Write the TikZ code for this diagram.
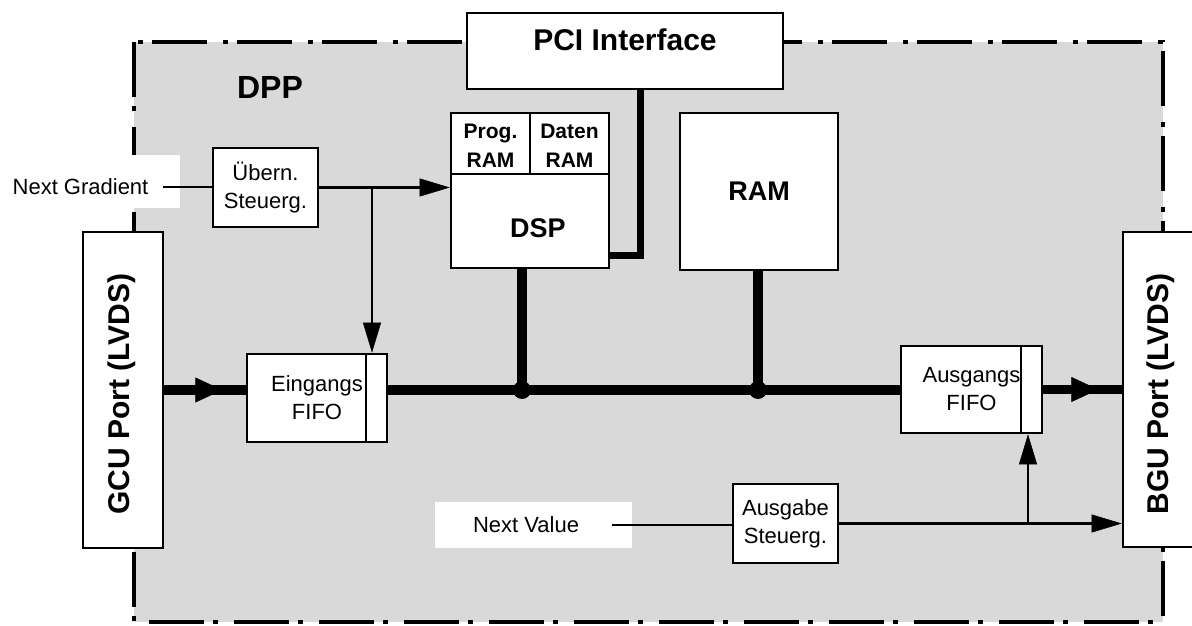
\documentclass[tikz,border=0pt]{standalone}
\usepackage{fontspec}
\setmainfont{Liberation Sans}
\usetikzlibrary{arrows.meta,decorations.markings,calc}
\tikzset{
  box/.style={draw, line width=2.6pt, fill=white, inner sep=0pt},
  thinline/.style={line width=2.2pt},
  arr/.style={thinline, -{Triangle[length=30pt,width=18pt,line width=0.5pt]}},
  bus/.style={line width=9.5pt},
  pcibus/.style={line width=7pt, line join=miter},
  frame/.style={line width=3.5pt, dash pattern=on 55pt off 9pt on 5pt off 16pt},
  lbl/.style={font=\fontsize{22}{28}\selectfont, align=center, inner sep=0pt},
  bigl/.style={font=\fontsize{30}{36}\selectfont\bfseries, inner sep=0pt},
  midl/.style={font=\fontsize{27}{32}\selectfont\bfseries, inner sep=0pt},
  smalll/.style={font=\fontsize{21}{29}\selectfont\bfseries, align=center, inner sep=0pt},
  midarrow/.style={postaction=decorate, decoration={markings, mark=at position #1 with {\arrow{Triangle[length=27pt,width=25pt,line width=0.5pt]}}}},
}
\begin{document}
\begin{tikzpicture}[x=1pt,y=-1pt]
\useasboundingbox (0,0) rectangle (1192,626);
% DPP area
\fill[black!15] (134,42) rectangle (1163,622);
\draw[frame] (134,42) rectangle (1163,622);
\fill[white] (0,155) rectangle (180,208);
\fill[white] (435,502) rectangle (632,548);
\node[font=\fontsize{32}{38}\selectfont\bfseries, inner sep=0pt] (dpp) at (270,87) {DPP};

% boxes
\node[box, minimum width=316pt, minimum height=76pt] (pci) at (625,51) {};
\node[bigl] (pcit) at (625,40) {PCI Interface};

\node[box, minimum width=158pt, minimum height=155pt] (dsp) at (530,190.5) {};
\draw[thinline] (451,174) -- (609,174);
\draw[thinline] (530,113) -- (530,174);
\node[smalll] (prog) at (490.5,146) {Prog.\\RAM};
\node[smalll] (daten) at (569.5,146) {Daten\\RAM};
\node[midl] (dspt) at (538,228) {DSP};

\node[box, minimum width=158pt, minimum height=157pt] (ram) at (759,191.5) {};
\node[midl] (ramt) at (759,191) {RAM};

\node[box, minimum width=105pt, minimum height=79pt, lbl] (uebern) at (265.5,187.5) {Übern.\\Steuerg.};
\node[box, minimum width=105pt, minimum height=79pt, lbl] (ausg) at (785.5,523.5) {Ausgabe\\Steuerg.};

\node[box, minimum width=80pt, minimum height=316pt] (gcu) at (123,390) {};
\node[bigl, rotate=90] (gcut) at (122,394) {GCU Port (LVDS)};
\node[box, minimum width=76pt, minimum height=315pt] (bgu) at (1161,389.5) {};
\node[bigl, rotate=90] (bgut) at (1161,394) {BGU Port (LVDS)};

\node[box, minimum width=140pt, minimum height=88pt, lbl] (ein) at (317,398) {Eingangs\\FIFO};
\draw[thinline] ($(ein.north east)+(-22,0)$) -- ($(ein.south east)+(-22,0)$);
\node[box, minimum width=141pt, minimum height=87pt, lbl] (aus) at (971.5,389.5) {Ausgangs\\FIFO};
\draw[thinline] ($(aus.north east)+(-22,0)$) -- ($(aus.south east)+(-22,0)$);

% labels
\node[lbl, inner xsep=14pt] (ng) at (80.5,187) {Next Gradient};
\node[lbl, inner xsep=33pt] (nv) at (526,525) {Next Value};

% coordinates
\coordinate (br) at (372,187.5);
\coordinate (br2) at (1028,523.5);
\coordinate (j1) at (522,390);
\coordinate (j2) at (758,390);
\coordinate (pcij) at (640,255);

% connectors
\draw[thinline] (ng.east) -- (ng.east -| uebern.west);
\draw[arr] (uebern.east) -- (uebern.east -| dsp.west);
\draw[arr] (br) -- (br |- ein.north);
\draw[thinline] (nv.east) -- (nv.east -| ausg.west);
\draw[arr] (ausg.east) -- (ausg.east -| bgu.west);
\draw[arr] (br2) -- (br2 |- aus.south);

\draw[pcibus] (pci.south -| pcij) |- (dsp.east |- pcij);
\draw[bus] (dsp.south -| j1) -- (j1);
\draw[bus] (ram.south -| j2) -- (j2);
\draw[bus] (ein.east |- j1) -- (aus.west |- j1);
\fill (j1) circle (9pt);
\fill (j2) circle (9pt);

\draw[bus, midarrow=58pt] (gcu.east) -- (gcu.east -| ein.west);
\draw[bus, midarrow=55pt] (aus.east) -- (aus.east -| bgu.west);
\end{tikzpicture}
\end{document}
